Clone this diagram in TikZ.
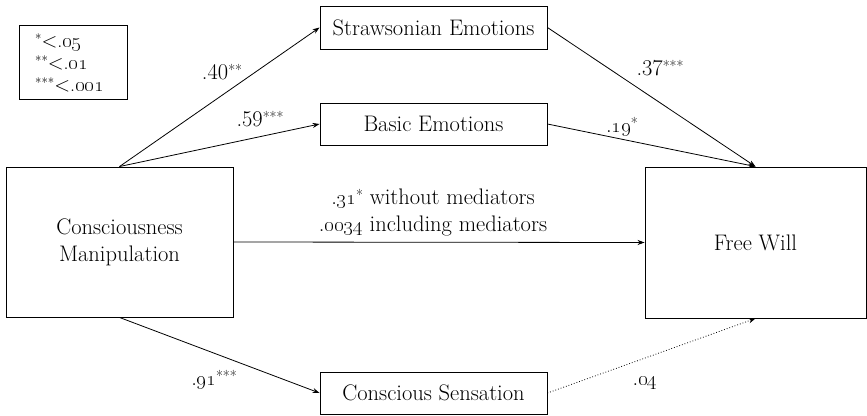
\documentclass[tikz,border=0pt]{standalone}
\usetikzlibrary{arrows.meta}
\newcommand\sg[1]{\raisebox{4pt}{\fontsize{15}{15}\selectfont #1}}
\newcommand\lsg[1]{\raisebox{4pt}{\fontsize{13}{13}\selectfont #1}}
\begin{document}
\begin{tikzpicture}[x=1pt,y=-1pt,
  font=\fontsize{22.5}{27}\selectfont,
  box/.style={draw, line width=0.9pt, inner sep=0pt, align=center},
  arr/.style={line width=0.8pt, -{Stealth[length=7pt,width=5pt]}},
  lbl/.style={inner sep=1pt},
  legl/.style={anchor=base west, inner sep=0pt, font=\fontsize{20}{22}\selectfont}]
\useasboundingbox (0,0) rectangle (867,415);
\node[box, minimum width=108, minimum height=74] (leg) at (73,62) {};
\node[legl] (lg1) at (35,47) {\lsg{*}$<$.\oldstylenums{05}};
\node[legl] (lg2) at (35,69) {\lsg{**}$<$.\oldstylenums{01}};
\node[legl] (lg3) at (35,91) {\lsg{***}$<$.\oldstylenums{001}};
\node[box, minimum width=227, minimum height=43] (se) at (433.5,27.5) {Strawsonian Emotions};
\node[box, minimum width=227, minimum height=42] (be) at (433.5,124) {Basic Emotions};
\node[box, minimum width=227, minimum height=150] (cm) at (119.5,242) {Consciousness\\Manipulation};
\node[box, minimum width=221, minimum height=151] (fw) at (755.5,242.5) {Free Will};
\node[box, minimum width=227, minimum height=42] (cs) at (433.5,393) {Conscious Sensation};
\draw[arr] (cm.north) -- (se.west);
\draw[arr] (cm.north) -- (be.west);
\draw[arr] (se.east) -- (fw.north);
\draw[arr] (be.east) -- (fw.north);
\draw[arr] (cm.east) -- (fw.west);
\draw[arr] (cm.south) -- (cs.west);
\draw[arr, dotted] (cs.east) -- (fw.south);
\node[lbl] (l40) at (222,72) {.40\sg{**}};
\node[lbl] (l59) at (260,119) {.59\sg{***}};
\node[lbl] (l37) at (660,68) {.37\sg{***}};
\node[lbl] (l19) at (622,127) {.\oldstylenums{19}\sg{*}};
\node[lbl, align=center] (l31) at (433,212) {.\oldstylenums{31}\sg{*} without mediators\\.\oldstylenums{0034} including mediators};
\node[lbl] (l91) at (214,380) {.\oldstylenums{91}\sg{***}};
\node[lbl] (l04) at (645,383) {.\oldstylenums{04}};
\end{tikzpicture}
\end{document}
